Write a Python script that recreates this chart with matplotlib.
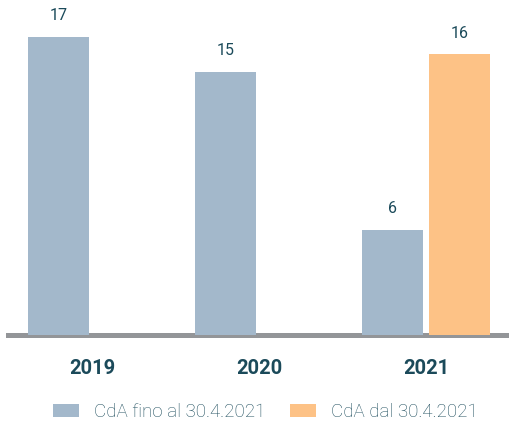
import matplotlib.pyplot as plt
import numpy as np

years = ["2019", "2020", "2021"]
cda_fino = [17, 15, 6]
cda_dal = [None, None, 16]
legend_labels = ["CdA fino al 30.4.2021", "CdA dal 30.4.2021"]

grey = "#A3B8CB"
orange = "#FDC286"
dark = "#1B4A5A"

plt.rcParams['font.family'] = ['Roboto', 'DejaVu Sans']

fig = plt.figure(figsize=(5.10, 4.21), dpi=100)
ax = fig.add_axes([0.0157, 0.204, 0.9843, 0.796])

x = np.arange(len(years))
w = 0.365
off = 0.2

ax.axhline(-0.02, color="#939598", lw=3.6, zorder=1, clip_on=False)

b1 = ax.bar(x - off, cda_fino, width=w, color=grey, zorder=2, label=legend_labels[0])
xs = [xi + off for xi, v in zip(x, cda_dal) if v is not None]
vs = [v for v in cda_dal if v is not None]
b2 = ax.bar(xs, vs, width=w, color=orange, zorder=2, label=legend_labels[1])

for xi, v in zip(x - off, cda_fino):
    ax.annotate(str(v), (xi, v), xytext=(0, 10), textcoords="offset points",
                ha="center", va="bottom", fontsize=11.5, color=dark)
for xi, v in zip(xs, vs):
    ax.annotate(str(v), (xi, v), xytext=(0, 10), textcoords="offset points",
                ha="center", va="bottom", fontsize=11.5, color=dark)

ax.set_xlim(-0.503, 2.503)
ax.set_ylim(0, 19.1)
ax.set_xticks(x)
ax.set_xticklabels(years, fontsize=14.5, fontweight="bold", color=dark)
ax.tick_params(axis="x", length=0, pad=17)
ax.set_yticks([])
for s in ax.spines.values():
    s.set_visible(False)

fig.legend(handles=[b1, b2], labels=legend_labels, loc="center", bbox_to_anchor=(0.52, 0.022),
           ncol=2, frameon=False, handlelength=1.4, handleheight=0.7, handletextpad=0.8,
           columnspacing=1.3, prop={"size": 13.5, "weight": "light"}, labelcolor="#1F4E5E")

fig.savefig("out.png", dpi=100)
